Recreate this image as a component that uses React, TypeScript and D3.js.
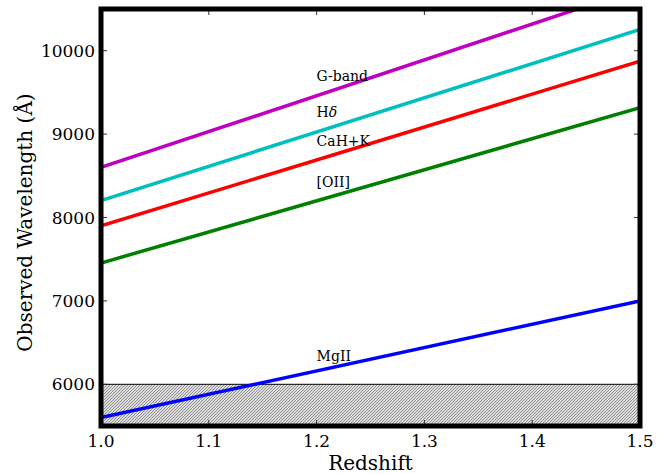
import React from 'react';
import * as d3 from 'd3';

// redshift endpoints of every line
const redshifts = [1.0, 1.5];

const lineNames = ['G-band', 'Hδ', 'CaH+K', '[OII]', 'MgII'];
const lineColors = ['#bf00bf', '#00bfbf', '#ff0000', '#008000', '#0000ff'];
// observed wavelength (Å) at z = 1.0 and z = 1.5
const gBand = [8600, 10750];
const hDelta = [8204, 10255];
const caHK = [7900, 9875];
const oII = [7454, 9318];
const mgII = [5600, 7000];
const lineValues = [gBand, hDelta, caHK, oII, mgII];

// label anchors (z, wavelength)
const labelZ = 1.2;
const labelY = [9635, 9200, 8860, 8370, 6280];

const xTicks = [1.0, 1.1, 1.2, 1.3, 1.4, 1.5];
const yTicks = [6000, 7000, 8000, 9000, 10000];

const cutoff = 6000; // shaded band below this

const W = 665;
const H = 474;
const left = 101;
const right = 640;
const top = 9;
const bottom = 426;
const serif = '"DejaVu Serif", serif';

const App = () => {
  const x = d3.scaleLinear().domain([1.0, 1.5]).range([left, right]);
  const y = d3.scaleLinear().domain([5500, 10500]).range([bottom, top]);

  const line = d3
    .line<number>()
    .x((d, i) => x(redshifts[i]))
    .y((d) => y(d));

  return (
    <svg width={W} height={H} style={{ position: 'absolute', left: 0, top: 0 }} fontFamily={serif}>
      <defs>
        <clipPath id="plot">
          <rect x={left} y={top} width={right - left} height={bottom - top} />
        </clipPath>
        <pattern id="hatch" width={3} height={3} patternUnits="userSpaceOnUse">
          <rect width={3} height={3} fill="#dcdcdc" />
          <path d="M-1,1 l2,-2 M0,3 l3,-3 M2,4 l2,-2" stroke="#8a8a8a" strokeWidth={0.9} />
        </pattern>
      </defs>

      <rect x={left} y={top} width={right - left} height={bottom - top} fill="#fff" />

      {/* shaded region */}
      <rect
        x={left}
        y={y(cutoff)}
        width={right - left}
        height={bottom - y(cutoff)}
        fill="url(#hatch)"
      />
      <line x1={left} x2={right} y1={y(cutoff)} y2={y(cutoff)} stroke="#000" strokeWidth={1} />

      {/* ticks, inward */}
      {xTicks.map((t) => (
        <line key={'xt' + t} x1={x(t)} x2={x(t)} y1={bottom} y2={bottom - 6} stroke="#333" strokeWidth={1} />
      ))}
      {xTicks.map((t) => (
        <line key={'xtt' + t} x1={x(t)} x2={x(t)} y1={top} y2={top + 6} stroke="#333" strokeWidth={1} />
      ))}
      {yTicks.map((t) => (
        <g key={'yt' + t}>
          <line x1={left} x2={left + 6} y1={y(t)} y2={y(t)} stroke="#333" strokeWidth={1} />
          <line x1={right} x2={right - 6} y1={y(t)} y2={y(t)} stroke="#333" strokeWidth={1} />
        </g>
      ))}

      {/* lines */}
      <g clipPath="url(#plot)">
        {lineValues.map((v, i) => (
          <path key={lineNames[i]} d={line(v) || ''} fill="none" stroke={lineColors[i]} strokeWidth={3.5} />
        ))}
      </g>

      {/* labels */}
      {lineNames.map((n, i) => (
        <text key={'lab' + n} x={x(labelZ)} y={y(labelY[i])} fontSize={14} fill="#000">
          {n === 'Hδ' ? (
            <>
              H<tspan fontStyle="italic">δ</tspan>
            </>
          ) : (
            n
          )}
        </text>
      ))}

      {/* frame */}
      <rect x={left} y={top} width={right - left} height={bottom - top} fill="none" stroke="#000" strokeWidth={5} />

      {/* tick labels */}
      {xTicks.map((t) => (
        <text key={'xl' + t} x={x(t)} y={bottom + 21} fontSize={17} textAnchor="middle">
          {d3.format('.1f')(t)}
        </text>
      ))}
      {yTicks.map((t) => (
        <text key={'yl' + t} x={left - 6} y={y(t)} dy="0.36em" fontSize={17} textAnchor="end">
          {t}
        </text>
      ))}

      {/* axis titles */}
      <text x={(left + right) / 2} y={470} fontSize={20} textAnchor="middle">
        Redshift
      </text>
      <text
        transform={`translate(32,${(top + bottom) / 2 + 5}) rotate(-90)`}
        fontSize={20}
        textAnchor="middle"
      >
        Observed Wavelength (Å)
      </text>
    </svg>
  );
};

export default App;
